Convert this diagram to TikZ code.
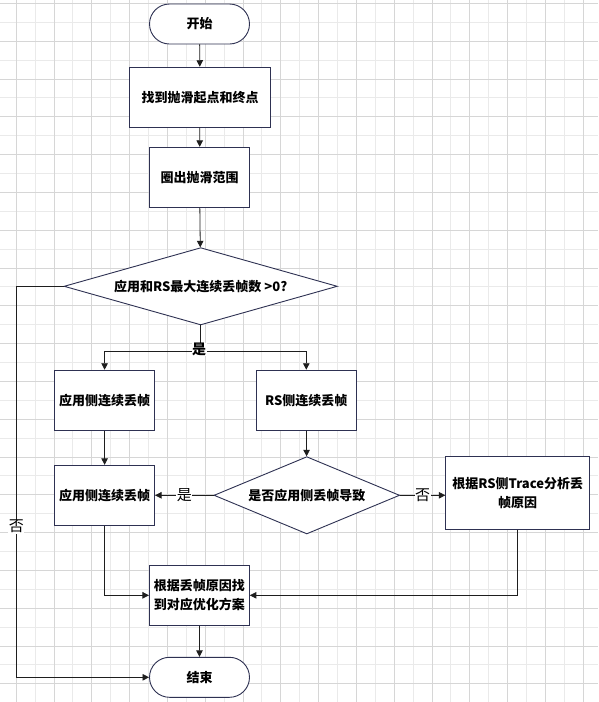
\documentclass[tikz,border=0pt]{standalone}
\usepackage{fontspec}
\setmainfont{Noto Sans CJK SC}
\usetikzlibrary{arrows.meta,shapes.geometric}
\definecolor{nodeb}{HTML}{2E3152}
\definecolor{edgec}{HTML}{1E1E1E}
\definecolor{gridd}{HTML}{D6D6D6}
\definecolor{gridl}{HTML}{EAEAEA}
\begin{document}
\begin{tikzpicture}[x=1pt,y=-1pt,
  nodetext/.style={font=\bfseries\fontsize{13}{19}\selectfont, text=black},
  box/.style={nodetext, draw=nodeb, fill=white, line width=0.9pt, inner sep=0pt, align=center},
  term/.style={box, rounded corners=20pt, minimum width=100pt, minimum height=40pt},
  proc/.style={box, minimum width=100pt, minimum height=60pt},
  dec/.style={box, diamond},
  conn/.style={draw=edgec, line width=0.8pt, -{Triangle[length=6.5pt,width=6.5pt]}},
  line/.style={draw=edgec, line width=0.8pt},
  elabel/.style={fill=white, inner sep=0.5pt, font=\fontsize{15}{16}\selectfont, text=black}
]
\useasboundingbox (0,0) rectangle (598,702);
\fill[white] (0,0) rectangle (598,702);
% grid
\foreach \i in {0,...,14} {
  \draw[gridl, line width=0.8pt] ({16.1+18.9+37.8*\i},0) -- ++(0,702);
}
\foreach \i in {0,...,18} {
  \draw[gridl, line width=0.8pt] (0,{22.2+37.8*\i}) -- ++(598,0);
}
\foreach \i in {0,...,15} {
  \draw[gridd, line width=0.8pt] ({16.1+37.8*\i},0) -- ++(0,702);
}
\foreach \i in {0,...,18} {
  \draw[gridd, line width=0.8pt] (0,{3.3+37.8*\i}) -- ++(598,0);
}

% nodes
\node[term] (start) at (199.5,24) {开始};
\node[proc, minimum width=140.6pt] (find) at (200,97.2) {找到抛滑起点和终点};
\node[proc] (range) at (199.5,177.3) {圈出抛滑范围};
\node[dec, minimum width=273.3pt, minimum height=77.3pt, aspect=3.54] (d1) at (200.7,286.3) {应用和RS最大连续丢帧数 >0?};
\node[proc] (app1) at (104.6,400.2) {应用侧连续丢帧};
\node[proc] (rs) at (306.3,400.2) {RS侧连续丢帧};
\node[proc] (app2) at (104.6,495.3) {应用侧连续丢帧};
\node[dec, minimum width=185.6pt, minimum height=77.3pt, aspect=2.4] (d2) at (306.8,495.3) {是否应用侧丢帧导致};
\node[proc, minimum width=143.9pt, minimum height=73pt, text width=138pt] (right) at (517.7,492.8) {根据RS侧Trace分析丢\\帧原因};
\node[proc, text width=96pt] (opt) at (199.4,595.3) {根据丢帧原因找\\到对应优化方案};
\node[term] (end) at (199.5,677.3) {结束};

\coordinate (split) at (d1.south |- 0,351.7);
\coordinate (ltop) at (16.4,286.3);

% connectors
\draw[conn] (start) -- (find);
\draw[conn] (find) -- (range);
\draw[conn] (range) -- (d1);
\draw[line] (d1.south) -- (split);
\draw[conn] (split) -| (app1.north);
\draw[conn] (split) -| (rs.north);
\node[elabel, font=\bfseries\fontsize{14}{15}\selectfont] (yes1) at (199,349.5) {是};
\draw[conn] (app2.east -| d2.west) -- node[elabel] (yes2) {是} (app2.east);
\draw[conn] (d2.east) -- node[elabel] (no2) {否} (right.west |- d2.east);
\draw[conn] (app1) -- (app2);
\draw[conn] (rs) -- (d2);
\draw[conn] (app2.south) |- (opt.west);
\draw[conn] (right.south) |- (opt.east);
\draw[conn] (opt) -- (end);
\draw[conn] (d1.west) -- (ltop) |- (end.west);
\node[elabel] (no1) at (16.4,526.7) {否};
\end{tikzpicture}
\end{document}
